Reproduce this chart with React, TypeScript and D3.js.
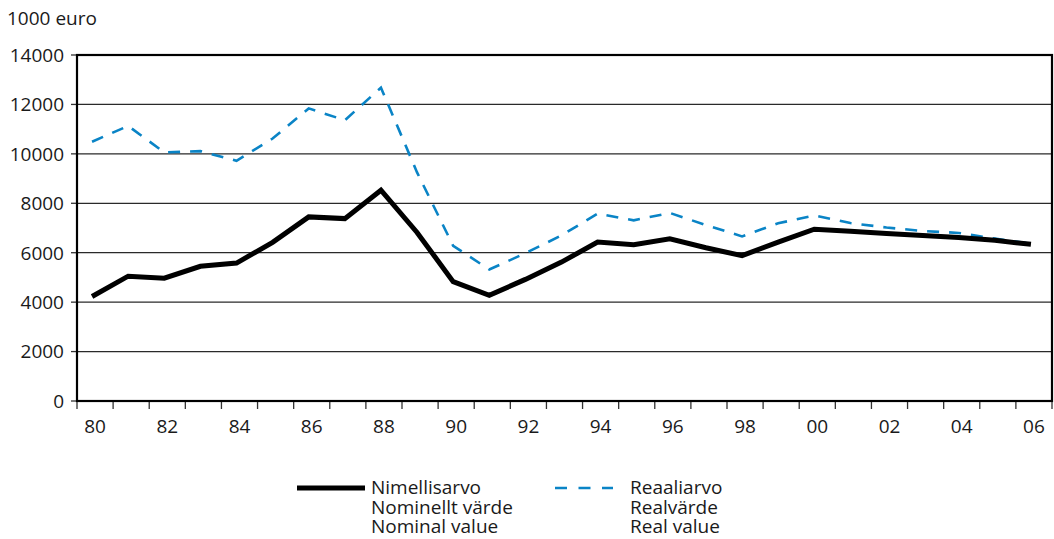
import * as d3 from 'd3';

const years = ['80', '81', '82', '83', '84', '85', '86', '87', '88', '89', '90', '91', '92', '93',
  '94', '95', '96', '97', '98', '99', '00', '01', '02', '03', '04', '05', '06'];
const nominal = [4230, 5050, 4970, 5450, 5580, 6420, 7450, 7380, 8530, 6820, 4830, 4280, 4920, 5620,
  6430, 6320, 6560, 6200, 5880, 6430, 6950, 6870, 6780, 6700, 6620, 6500, 6340];
const real = [10490, 11130, 10060, 10110, 9720, 10620, 11840, 11360, 12680, 9250, 6280, 5320, 5980, 6700,
  7580, 7310, 7610, 7120, 6660, 7190, 7510, 7200, 7020, 6880, 6800, 6570, 6370];
const yTicks = [0, 2000, 4000, 6000, 8000, 10000, 12000, 14000];
const xLabels = ['80', '82', '84', '86', '88', '90', '92', '94', '96', '98', '00', '02', '04', '06'];
const legendNominal = ['Nimellisarvo', 'Nominellt värde', 'Nominal value'];
const legendReal = ['Reaaliarvo', 'Realvärde', 'Real value'];

const W = 1054, H = 539;
const left = 77, right = 1052, top = 55, bottom = 401;
const font = '"Open Sans", sans-serif';

export default function App() {
  const x = d3.scaleBand().domain(years).range([left, right]);
  const y = d3.scaleLinear().domain([0, 14000]).range([bottom, top]);
  const cx = (d: string) => (x(d) ?? 0) + x.bandwidth() / 2 - 3;
  const line = d3.line<number>().x((_, i) => cx(years[i])).y(d => y(d));

  return (
    <svg width={W} height={H} style={{ position: 'absolute', left: 0, top: 0, background: '#fff' }}
      fontFamily={font} fontSize={19} fill="#1a1a1a">
      <text x={7} y={25}>1000 euro</text>

      {yTicks.map(t => (
        <g key={t}>
          {t > 0 && t < 14000 && <line x1={left} x2={right} y1={y(t)} y2={y(t)} stroke="#2a2a2a" strokeWidth={1.3} />}
          <line x1={71} x2={left} y1={y(t)} y2={y(t)} stroke="#333" strokeWidth={1.3} />
          <text x={64} y={y(t)} dy="0.36em" textAnchor="end">{t}</text>
        </g>
      ))}

      {years.map(yr => (
        <line key={yr} x1={x(yr)} x2={x(yr)} y1={bottom} y2={bottom + 8} stroke="#333" strokeWidth={1.3} />
      ))}
      <line x1={right} x2={right} y1={bottom} y2={bottom + 8} stroke="#333" strokeWidth={1.3} />
      {xLabels.map(l => (
        <text key={l} x={(x(l) ?? 0) + x.bandwidth() / 2} y={433} textAnchor="middle">{l}</text>
      ))}

      <path d={line(real) ?? ''} fill="none" stroke="#0a84c6" strokeWidth={2.6} strokeDasharray="12 10" />
      <path d={line(nominal) ?? ''} fill="none" stroke="#000" strokeWidth={5} strokeLinejoin="miter" />

      <rect x={left} y={top} width={right - left} height={bottom - top} fill="none" stroke="#000" strokeWidth={2.2} />

      <line x1={297} x2={365} y1={488} y2={488} stroke="#000" strokeWidth={5} />
      {legendNominal.map((s, i) => (
        <text key={s} x={371} y={494 + i * 19.5}>{s}</text>
      ))}
      <line x1={555} x2={613} y1={488} y2={488} stroke="#0a84c6" strokeWidth={2.6} strokeDasharray="12 11.5" />
      {legendReal.map((s, i) => (
        <text key={s} x={630} y={494 + i * 19.5}>{s}</text>
      ))}
    </svg>
  );
}
